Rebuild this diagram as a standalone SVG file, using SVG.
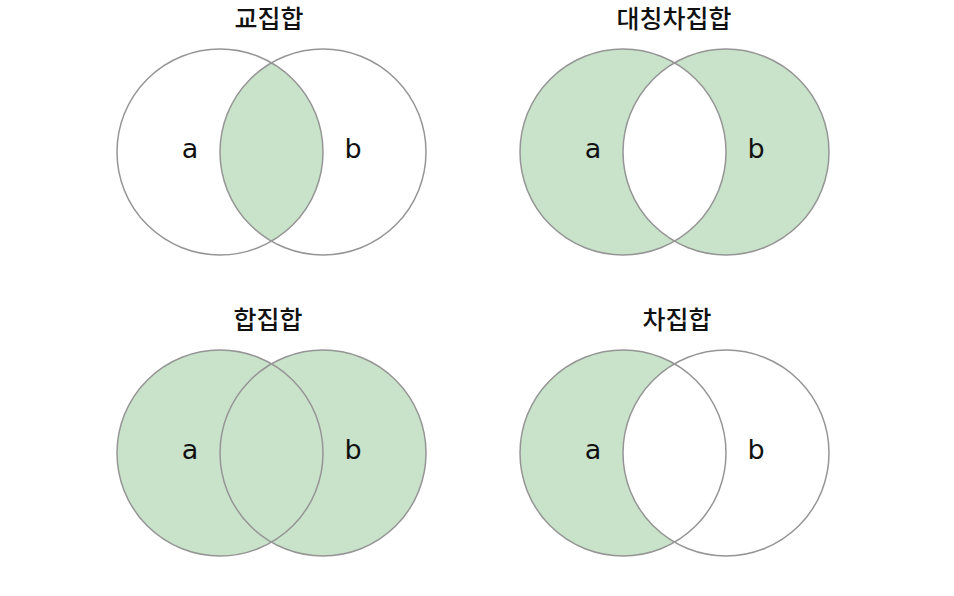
<svg xmlns="http://www.w3.org/2000/svg" width="954" height="596" viewBox="0 0 954 596">
<style>
.title{font-family:"Noto Sans CJK KR","Noto Sans",sans-serif;font-size:25px;font-weight:500;fill:#111;text-anchor:middle}
.lbl{font-family:"DejaVu Sans","Open Sans",sans-serif;font-size:27px;fill:#111;text-anchor:middle}
.ring{fill:none;stroke:#959595;stroke-width:1.5}
.g{fill:#c9e2ca}
.w{fill:#ffffff}
</style>
<defs>
<path id="lens" d="M271.5 62.8 A103 103 0 0 1 271.5 241.2 A103 103 0 0 1 271.5 62.8 Z"/>
</defs>
<rect width="954" height="596" fill="#ffffff"/>
<g id="intersection">
<use href="#lens" class="g"/>
<circle class="ring" cx="220" cy="152" r="103"/>
<circle class="ring" cx="323" cy="152" r="103"/>
<text class="title" x="269" y="28">교집합</text>
<text class="lbl" x="190" y="158">a</text>
<text class="lbl" x="353" y="158">b</text>
</g>
<g id="symmetric-difference" transform="translate(403,0)">
<circle class="g" cx="220" cy="152" r="103"/>
<circle class="g" cx="323" cy="152" r="103"/>
<use href="#lens" class="w"/>
<circle class="ring" cx="220" cy="152" r="103"/>
<circle class="ring" cx="323" cy="152" r="103"/>
<text class="title" x="271" y="28">대칭차집합</text>
<text class="lbl" x="190" y="158">a</text>
<text class="lbl" x="353" y="158">b</text>
</g>
<g id="union" transform="translate(0,301)">
<circle class="g" cx="220" cy="152" r="103"/>
<circle class="g" cx="323" cy="152" r="103"/>
<circle class="ring" cx="220" cy="152" r="103"/>
<circle class="ring" cx="323" cy="152" r="103"/>
<text class="title" x="268" y="28">합집합</text>
<text class="lbl" x="190" y="158">a</text>
<text class="lbl" x="353" y="158">b</text>
</g>
<g id="difference" transform="translate(403,301)">
<circle class="g" cx="220" cy="152" r="103"/>
<use href="#lens" class="w"/>
<circle class="ring" cx="220" cy="152" r="103"/>
<circle class="ring" cx="323" cy="152" r="103"/>
<text class="title" x="274" y="28">차집합</text>
<text class="lbl" x="190" y="158">a</text>
<text class="lbl" x="353" y="158">b</text>
</g>
<g id="connectors"/>
</svg>
